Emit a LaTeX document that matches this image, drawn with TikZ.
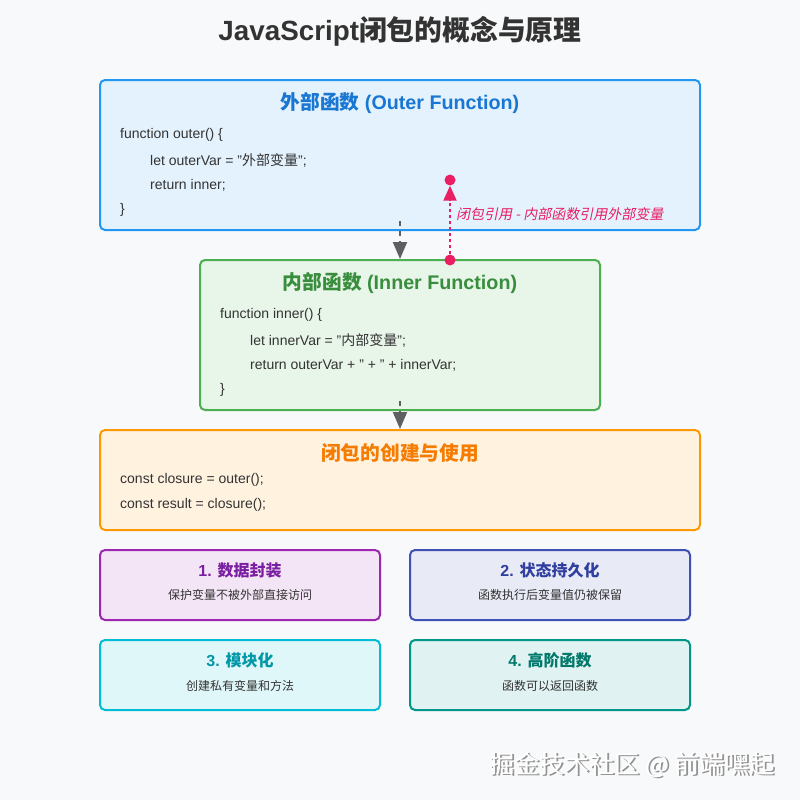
\documentclass[tikz,border=0pt]{standalone}
\usepackage{fontspec}
\setmainfont{Liberation Sans}
\newfontfamily\cjk{Noto Sans CJK SC}
\newfontfamily\cjkit[FakeSlant=0.2]{Noto Sans CJK SC}
\usetikzlibrary{arrows.meta}
\definecolor{bg}{HTML}{F8F9FA}
\definecolor{titlec}{HTML}{333333}
\definecolor{codec}{HTML}{333333}
\definecolor{ofill}{HTML}{E3F2FD}\definecolor{odraw}{HTML}{2196F3}\definecolor{otext}{HTML}{1976D2}
\definecolor{ifill}{HTML}{E8F5E9}\definecolor{idraw}{HTML}{4CAF50}\definecolor{itext}{HTML}{388E3C}
\definecolor{ufill}{HTML}{FFF3E0}\definecolor{udraw}{HTML}{FF9800}\definecolor{utext}{HTML}{F57C00}
\definecolor{afill}{HTML}{F3E5F5}\definecolor{adraw}{HTML}{9C27B0}\definecolor{atext}{HTML}{7B1FA2}
\definecolor{bfill}{HTML}{E8EAF6}\definecolor{bdraw}{HTML}{3F51B5}\definecolor{btext}{HTML}{303F9F}
\definecolor{cfill}{HTML}{E0F7FA}\definecolor{cdraw}{HTML}{00BCD4}\definecolor{ctext}{HTML}{0097A7}
\definecolor{dfill}{HTML}{E0F2F1}\definecolor{ddraw}{HTML}{009688}\definecolor{dtext}{HTML}{00796B}
\definecolor{pinkc}{HTML}{E91E63}
\definecolor{grayc}{HTML}{5F5F5F}
\begin{document}
\begin{tikzpicture}[x=1pt,y=-1pt,
  panel/.style={rectangle, rounded corners=5pt, line width=2pt, inner sep=0pt},
  code/.style={anchor=west, inner sep=0pt, text=codec, font=\fontsize{14}{16}\selectfont},
  ptitle/.style={inner sep=0pt, font=\bfseries\fontsize{19.7}{22}\selectfont},
  ctitle/.style={inner sep=0pt, font=\bfseries\fontsize{16}{19}\selectfont},
  cdesc/.style={inner sep=0pt, text=codec, font=\cjk\fontsize{12}{14}\selectfont},
  flowarrow/.style={draw=grayc, line width=2pt, dash pattern=on 5pt off 5pt, -{Triangle[length=17pt,width=14pt]}, grayc},
  refarrow/.style={draw=pinkc, line width=2pt, dash pattern=on 3pt off 3pt, -{Triangle[length=15pt,width=13pt]}, pinkc},
  dot/.style={circle, fill=pinkc, inner sep=0pt, minimum size=11pt}
]
\useasboundingbox[fill=bg] (0,0) rectangle (800,800);

\node[inner sep=0pt, text=titlec, font=\bfseries\fontsize{27.8}{32}\selectfont] (title) at (400,31) {JavaScript{\cjk 闭包的概念与原理}};

% outer
\node[panel, fill=ofill, draw=odraw, minimum width=600pt, minimum height=150pt] (outer) at (400,155) {};
\node[ptitle, text=otext] (outerT) at (400,103) {{\cjk 外部函数} (Outer Function)};
\node[code] (o1) at (120,135) {function outer() \{};
\node[code] (o2) at (150,160) {let outerVar = "{\cjk 外部变量}";};
\node[code] (o3) at (150,185) {return inner;};
\node[code] (o4) at (120,210) {\}};

% inner
\node[panel, fill=ifill, draw=idraw, minimum width=400pt, minimum height=150pt] (inner) at (400,335) {};
\node[ptitle, text=itext] (innerT) at (400,283) {{\cjk 内部函数} (Inner Function)};
\node[code] (i1) at (220,315) {function inner() \{};
\node[code] (i2) at (250,340) {let innerVar = "{\cjk 内部变量}";};
\node[code] (i3) at (250,365) {return outerVar + " + " + innerVar;};
\node[code] (i4) at (220,390) {\}};

% usage
\node[panel, fill=ufill, draw=udraw, minimum width=600pt, minimum height=100pt] (usage) at (400,480) {};
\node[ptitle, text=utext, font=\cjk\bfseries\fontsize{19.7}{22}\selectfont] (usageT) at (400,453) {闭包的创建与使用};
\node[code] (u1) at (120,480) {const closure = outer();};
\node[code] (u2) at (120,505) {const result = closure();};

% arrows
\draw[flowarrow] ([yshift=10pt]outer.south) -- (inner.north);
\draw[flowarrow] ([yshift=10pt]inner.south) -- (usage.north);

\node[dot] (refS) at (450,260) {};
\node[dot] (refE) at (450,180) {};
\draw[refarrow] (refS) -- (refE);
\node[anchor=west, inner sep=0pt, text=pinkc, font=\cjkit\fontsize{14}{16}\selectfont] (refL) at (456,214) {闭包引用 - 内部函数引用外部变量};

% feature cards
\node[panel, fill=afill, draw=adraw, minimum width=280pt, minimum height=70pt] (c1) at (240,585) {};
\node[ctitle, text=atext] (c1T) at (240,570) {1. {\cjk 数据封装}};
\node[cdesc] (c1D) at (240,595) {保护变量不被外部直接访问};

\node[panel, fill=bfill, draw=bdraw, minimum width=280pt, minimum height=70pt] (c2) at (550,585) {};
\node[ctitle, text=btext] (c2T) at (550,570) {2. {\cjk 状态持久化}};
\node[cdesc] (c2D) at (550,595) {函数执行后变量值仍被保留};

\node[panel, fill=cfill, draw=cdraw, minimum width=280pt, minimum height=70pt] (c3) at (240,675) {};
\node[ctitle, text=ctext] (c3T) at (240,660) {3. {\cjk 模块化}};
\node[cdesc] (c3D) at (240,686) {创建私有变量和方法};

\node[panel, fill=dfill, draw=ddraw, minimum width=280pt, minimum height=70pt] (c4) at (550,675) {};
\node[ctitle, text=dtext] (c4T) at (550,660) {4. {\cjk 高阶函数}};
\node[cdesc] (c4D) at (550,686) {函数可以返回函数};

% watermark
\node[anchor=east, inner sep=0pt, text=gray!85, font=\cjk\fontsize{25}{28}\selectfont] (wmS) at (776.5,766.5) {掘金技术社区 @ 前端嘿起};
\node[anchor=east, inner sep=0pt, text=white, font=\cjk\fontsize{25}{28}\selectfont] (wm) at (775,765) {掘金技术社区 @ 前端嘿起};
\end{tikzpicture}
\end{document}
